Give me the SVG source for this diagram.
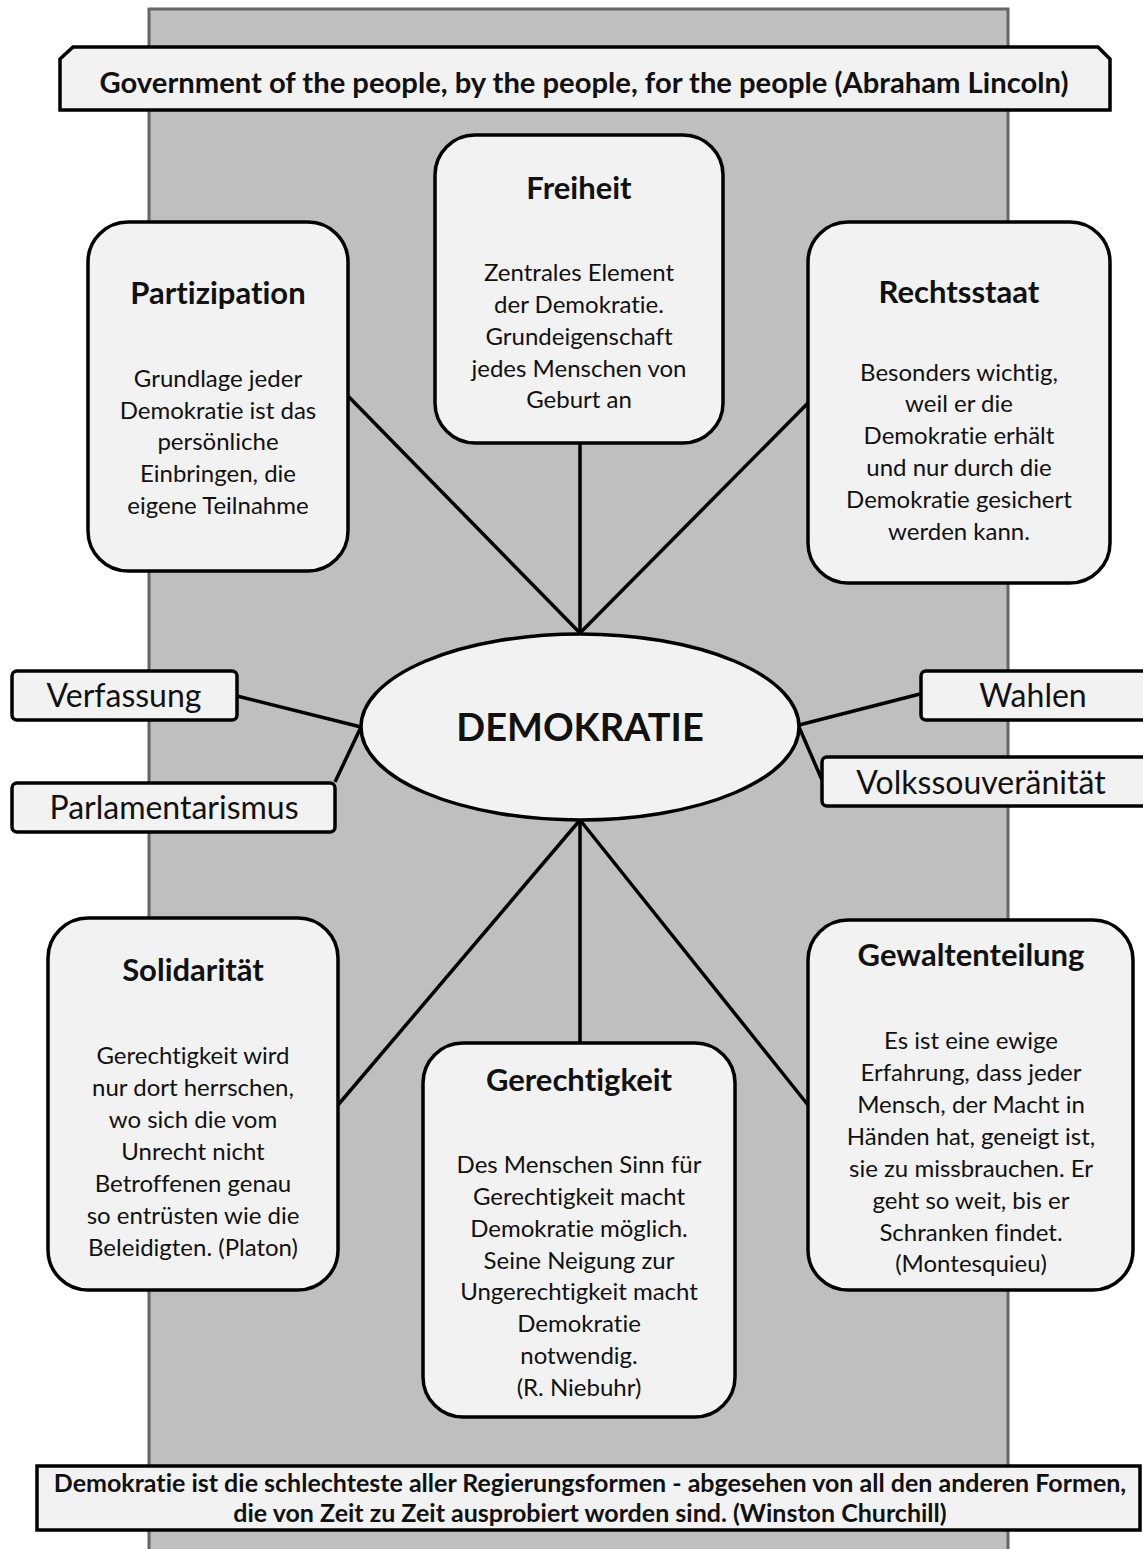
<svg xmlns="http://www.w3.org/2000/svg" width="1143" height="1549" viewBox="0 0 1143 1549">
  <style>
    .panel { fill: #bfbfbf; stroke: #666666; stroke-width: 3; }
    .box { fill: #f2f2f2; stroke: #000000; stroke-width: 3.5; }
    .link { stroke: #000000; stroke-width: 3.5; fill: none; }
    text { font-family: Lato, "Noto Sans", "DejaVu Sans", sans-serif; fill: #111111; text-anchor: middle; font-variant-ligatures: none; }
    .title { font-size: 31px; font-weight: bold; }
    .body { font-size: 24px; }
    .tag { font-size: 32px; }
    .banner { font-size: 29.2px; font-weight: bold; }
    .banner2 { font-size: 25px; font-weight: bold; }
  </style>

  <!-- grey backdrop panel -->
  <rect class="panel" x="149" y="9" width="859" height="1560"/>

  <!-- connectors -->
  <g id="connectors">
    <line class="link" x1="580" y1="443" x2="580" y2="633"/>
    <line class="link" x1="348" y1="396" x2="580" y2="633"/>
    <line class="link" x1="808" y1="403" x2="580" y2="633"/>
    <line class="link" x1="237" y1="696" x2="361" y2="727"/>
    <line class="link" x1="335" y1="782" x2="361" y2="727"/>
    <line class="link" x1="920" y1="694" x2="799" y2="725"/>
    <line class="link" x1="822" y1="780" x2="799" y2="727"/>
    <line class="link" x1="580" y1="820" x2="338" y2="1105"/>
    <line class="link" x1="580" y1="820" x2="580" y2="1043"/>
    <line class="link" x1="580" y1="820" x2="808" y2="1105"/>
  </g>

  <!-- top quote banner -->
  <g id="banner-top">
    <path class="box" d="M73,47 H1098 L1110,59 V110 H60 V59 Z"/>
    <text class="banner" x="584" y="93">Government of the people, by the people, for the people (Abraham Lincoln)</text>
  </g>

  <g id="freiheit">
    <rect class="box" x="435" y="135" width="288" height="308" rx="40"/>
    <text class="title" x="579" y="199">Freiheit</text>
    <text class="body" x="579" y="281">Zentrales Element</text>
    <text class="body" x="579" y="313">der Demokratie.</text>
    <text class="body" x="579" y="345">Grundeigenschaft</text>
    <text class="body" x="579" y="377">jedes Menschen von</text>
    <text class="body" x="579" y="408">Geburt an</text>
  </g>

  <g id="partizipation">
    <rect class="box" x="88" y="222" width="260" height="349" rx="40"/>
    <text class="title" x="218" y="304">Partizipation</text>
    <text class="body" x="218" y="387">Grundlage jeder</text>
    <text class="body" x="218" y="419">Demokratie ist das</text>
    <text class="body" x="218" y="450">persönliche</text>
    <text class="body" x="218" y="482">Einbringen, die</text>
    <text class="body" x="218" y="514">eigene Teilnahme</text>
  </g>

  <g id="rechtsstaat">
    <rect class="box" x="808" y="222" width="302" height="361" rx="40"/>
    <text class="title" x="959" y="303">Rechtsstaat</text>
    <text class="body" x="959" y="381">Besonders wichtig,</text>
    <text class="body" x="959" y="412">weil er die</text>
    <text class="body" x="959" y="444">Demokratie erhält</text>
    <text class="body" x="959" y="476">und nur durch die</text>
    <text class="body" x="959" y="508">Demokratie gesichert</text>
    <text class="body" x="959" y="540">werden kann.</text>
  </g>

  <g id="demokratie">
    <ellipse class="box" cx="580" cy="727" rx="219" ry="93"/>
    <text x="580" y="741" style="font-size:38px;font-weight:bold">DEMOKRATIE</text>
  </g>

  <g id="verfassung">
    <rect class="box" x="12" y="671" width="225" height="49" rx="5"/>
    <text class="tag" x="124" y="707">Verfassung</text>
  </g>

  <g id="parlamentarismus">
    <rect class="box" x="12" y="783" width="323" height="49" rx="5"/>
    <text class="tag" x="174" y="819">Parlamentarismus</text>
  </g>

  <g id="wahlen">
    <rect class="box" x="921" y="671" width="230" height="49" rx="5"/>
    <text class="tag" x="1033" y="707">Wahlen</text>
  </g>

  <g id="volkssouveraenitaet">
    <rect class="box" x="822" y="757" width="330" height="49" rx="5"/>
    <text class="tag" x="981" y="794">Volkssouveränität</text>
  </g>

  <g id="solidaritaet">
    <rect class="box" x="48" y="918" width="290" height="372" rx="40"/>
    <text class="title" x="193" y="981">Solidarität</text>
    <text class="body" x="193" y="1064">Gerechtigkeit wird</text>
    <text class="body" x="193" y="1096">nur dort herrschen,</text>
    <text class="body" x="193" y="1128">wo sich die vom</text>
    <text class="body" x="193" y="1160">Unrecht nicht</text>
    <text class="body" x="193" y="1192">Betroffenen genau</text>
    <text class="body" x="193" y="1224">so entrüsten wie die</text>
    <text class="body" x="193" y="1256">Beleidigten. (Platon)</text>
  </g>

  <g id="gerechtigkeit">
    <rect class="box" x="423" y="1043" width="312" height="374" rx="40"/>
    <text class="title" x="579" y="1091">Gerechtigkeit</text>
    <text class="body" x="579" y="1173">Des Menschen Sinn für</text>
    <text class="body" x="579" y="1205">Gerechtigkeit macht</text>
    <text class="body" x="579" y="1237">Demokratie möglich.</text>
    <text class="body" x="579" y="1269">Seine Neigung zur</text>
    <text class="body" x="579" y="1300">Ungerechtigkeit macht</text>
    <text class="body" x="579" y="1332">Demokratie</text>
    <text class="body" x="579" y="1364">notwendig.</text>
    <text class="body" x="579" y="1396">(R. Niebuhr)</text>
  </g>

  <g id="gewaltenteilung">
    <rect class="box" x="808" y="920" width="325" height="370" rx="40"/>
    <text class="title" x="971" y="966">Gewaltenteilung</text>
    <text class="body" x="971" y="1049">Es ist eine ewige</text>
    <text class="body" x="971" y="1081">Erfahrung, dass jeder</text>
    <text class="body" x="971" y="1113">Mensch, der Macht in</text>
    <text class="body" x="971" y="1145">Händen hat, geneigt ist,</text>
    <text class="body" x="971" y="1177">sie zu missbrauchen. Er</text>
    <text class="body" x="971" y="1209">geht so weit, bis er</text>
    <text class="body" x="971" y="1241">Schranken findet.</text>
    <text class="body" x="971" y="1272">(Montesquieu)</text>
  </g>

  <!-- bottom quote banner -->
  <g id="banner-bottom">
    <rect class="box" x="37" y="1466" width="1103" height="64"/>
    <text class="banner2" x="590" y="1492">Demokratie ist die schlechteste aller Regierungsformen - abgesehen von all den anderen Formen,</text>
    <text class="banner2" x="590" y="1522">die von Zeit zu Zeit ausprobiert worden sind. (Winston Churchill)</text>
  </g>
</svg>
